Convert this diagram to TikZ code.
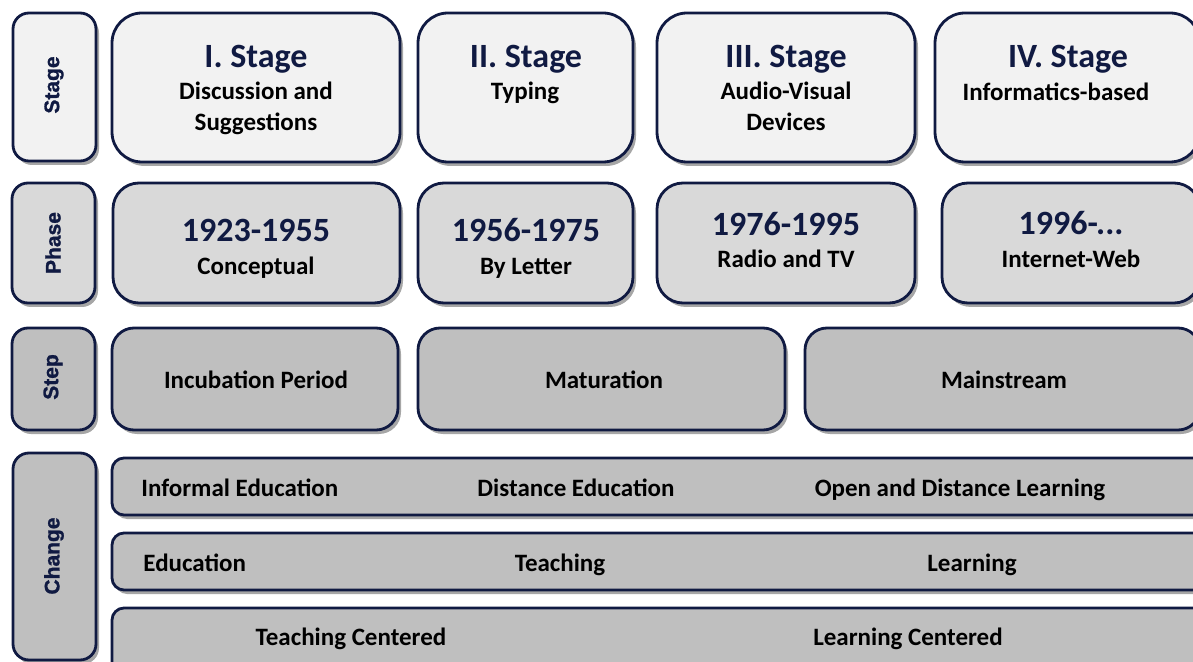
\documentclass[tikz,border=0pt]{standalone}
\usepackage{fontspec}
\setmainfont{Carlito}
\newfontfamily\sidefont[FakeBold=1.2]{Liberation Sans}
\usetikzlibrary{shadows}
\definecolor{navy}{RGB}{16,26,66}
\definecolor{lightfill}{RGB}{242,242,242}
\definecolor{midfill}{RGB}{217,217,217}
\definecolor{darkfill}{RGB}{191,191,191}
\tikzset{
  box/.style={draw=navy, line width=1.4pt,
    drop shadow={shadow xshift=1.5pt, shadow yshift=-2pt, opacity=0.35, fill=black}},
  stagebox/.style={box, fill=lightfill, rounded corners=15pt},
  phasebox/.style={box, fill=midfill, rounded corners=13pt},
  stepbox/.style={box, fill=darkfill, rounded corners=11pt},
  changebox/.style={box, fill=darkfill, rounded corners=6pt},
  sidebox/.style={box, rounded corners=8pt},
  headtxt/.style={anchor=base, inner sep=0pt, text=navy, font=\bfseries\fontsize{17}{20}\selectfont},
  subtxt/.style={anchor=base, inner sep=0pt, font=\bfseries\fontsize{12.5}{15}\selectfont},
  sidetxt/.style={rotate=90, inner sep=0pt, text=navy, font=\sidefont\bfseries\fontsize{10.5}{12}\selectfont}
}
\begin{document}
\begin{tikzpicture}[x=0.5pt, y=-0.5pt]
			%%%%% START %%%%%
			\clip (0,0) rectangle (1193,662);
			
			% stage row
			\draw[sidebox, fill=lightfill] (13,13) rectangle (96,161);
			\node[sidetxt] (lstage) at (54,85) {Stage};
			
			\draw[stagebox] (112,13) rectangle (400,162);
			\node[headtxt] (st1) at (256,68) {I. Stage};
			\node[subtxt] (st1a) at (256,100) {Discussion and};
			\node[subtxt] (st1b) at (256,131) {Suggestions};
			
			\draw[stagebox] (418,13) rectangle (633,162);
			\node[headtxt] (st2) at (526,68) {II. Stage};
			\node[subtxt] (st2a) at (525,100) {Typing};
			
			\draw[stagebox] (657,13) rectangle (915,162);
			\node[headtxt] (st3) at (786,68) {III. Stage};
			\node[subtxt] (st3a) at (786,100) {Audio-Visual};
			\node[subtxt] (st3b) at (786,131) {Devices};
			
			\draw[stagebox] (935,13) rectangle (1200,162);
			\node[headtxt] (st4) at (1068,68) {IV. Stage};
			\node[subtxt] (st4a) at (1056,101) {Informatics-based};
			
			% phase row
			\draw[sidebox, fill=midfill] (12,183) rectangle (95,303);
			\node[sidetxt] (lphase) at (53,243) {Phase};
			
			\draw[phasebox] (113,183) rectangle (400,303);
			\node[headtxt] (ph1) at (256,242) {1923-1955};
			\node[subtxt] (ph1a) at (256,275) {Conceptual};
			
			\draw[phasebox] (418,183) rectangle (633,303);
			\node[headtxt] (ph2) at (526,242) {1956-1975};
			\node[subtxt] (ph2a) at (526,275) {By Letter};
			
			\draw[phasebox] (657,183) rectangle (915,303);
			\node[headtxt] (ph3) at (786,236) {1976-1995};
			\node[subtxt] (ph3a) at (786,268) {Radio and TV};
			
			\draw[phasebox] (942,183) rectangle (1200,303);
			\node[headtxt] (ph4) at (1071,235) {1996-...};
			\node[subtxt] (ph4a) at (1071,268) {Internet-Web};
			
			% step row
			\draw[sidebox, fill=darkfill] (12,328) rectangle (95,430);
			\node[sidetxt] (lstep) at (53,377) {Step};
			
			\draw[stepbox] (112,328) rectangle (398,430);
			\node[subtxt] (sp1) at (256,388) {Incubation Period};
			\draw[stepbox] (418,328) rectangle (785,430);
			\node[subtxt] (sp2) at (604,388) {Maturation};
			\draw[stepbox] (805,328) rectangle (1200,430);
			\node[subtxt] (sp3) at (1004,388) {Mainstream};
			
			% change rows
			\draw[sidebox, fill=darkfill] (13,453) rectangle (96,660);
			\node[sidetxt] (lchange) at (54,556) {Change};
			
			\draw[changebox] (112,458) rectangle (1210,515);
			\node[subtxt, anchor=base west] (ch1a) at (141,496) {Informal Education};
			\node[subtxt] (ch1b) at (576,496) {Distance Education};
			\node[subtxt] (ch1c) at (960,496) {Open and Distance Learning};
			
			\draw[changebox] (112,533) rectangle (1210,590);
			\node[subtxt, anchor=base west] (ch2a) at (143,571) {Education};
			\node[subtxt] (ch2b) at (560,571) {Teaching};
			\node[subtxt] (ch2c) at (972,571) {Learning};
			
			\draw[changebox] (112,608) rectangle (1210,690);
			\node[subtxt] (ch3a) at (351,645) {Teaching Centered};
			\node[subtxt] (ch3b) at (908,645) {Learning Centered};
			
			%%%%% END %%%%%
\end{tikzpicture}
\end{document}
